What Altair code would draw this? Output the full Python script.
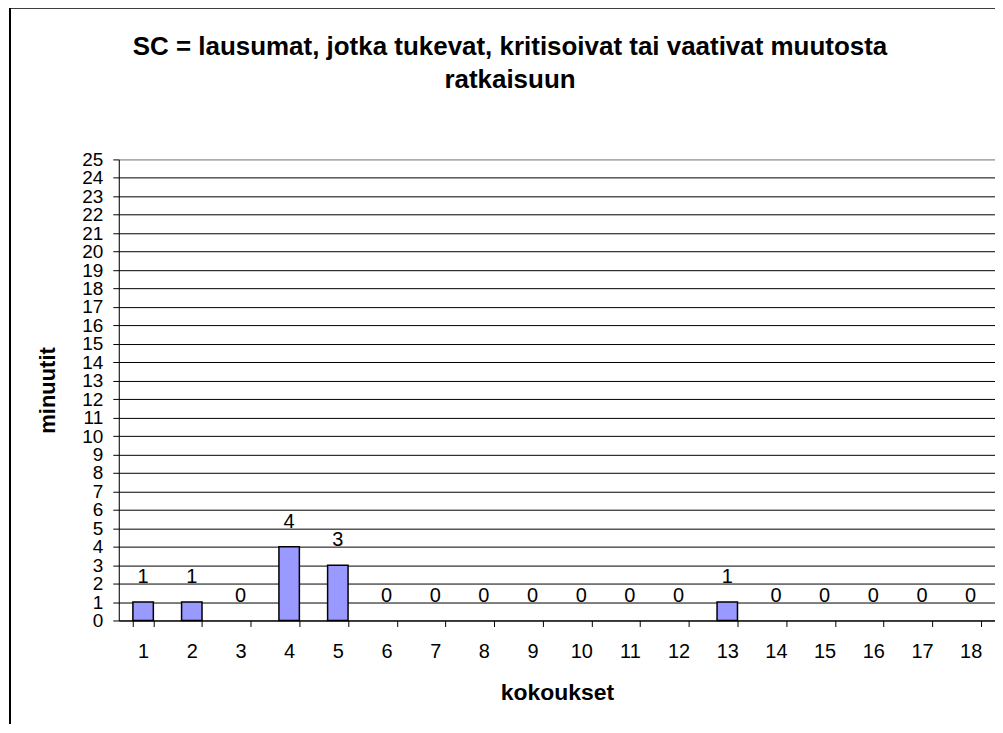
import altair as alt
import pandas as pd

# ---- data ----
meetings = [str(i) for i in range(1, 19)]
minutes = [1, 1, 0, 4, 3, 0, 0, 0, 0, 0, 0, 0, 1, 0, 0, 0, 0, 0]
y_ticks = list(range(0, 26))
title_lines = ["SC = lausumat, jotka tukevat, kritisoivat tai vaativat muutosta",
               "ratkaisuun"]
x_title = "kokoukset"
y_title = "minuutit"

df = pd.DataFrame({"kokous": meetings, "minuutit": minutes})

W, H = 878, 462
FONT = "Liberation Sans"

x = alt.X(
    "kokous:O", sort=meetings,
    scale=alt.Scale(paddingInner=0.58, paddingOuter=0.29),
    axis=alt.Axis(
        title=x_title, labelAngle=0, labelFontSize=20, labelColor="black",
        labelFont=FONT, labelPadding=15, labelOverlap=False,
        tickBand="extent", tickSize=6, tickColor="black", tickWidth=1,
        domainColor="black", domainWidth=1,
        titleFont=FONT, titleFontSize=23, titleFontWeight="bold",
        titleColor="black", titleY=79, titleBaseline="alphabetic",
        grid=False,
    ),
)
y = alt.Y(
    "minuutit:Q",
    scale=alt.Scale(domain=[0, 25], nice=False, zero=True),
    axis=alt.Axis(
        title=y_title, values=y_ticks, labelFontSize=19, labelColor="black",
        labelFont=FONT, labelPadding=10, labelOverlap=False, labelFlush=False,
        labelBound=False,
        tickSize=6, tickColor="black", tickWidth=1,
        domainColor="black", domainWidth=1,
        grid=True,
        gridColor=alt.condition("datum.value == 25", alt.value("#808080"), alt.value("#000000")),
        gridWidth=1,
        titleFont=FONT, titleFontSize=22, titleFontWeight="bold",
        titleColor="black", titleX=-71, titleY=H / 2, titleBaseline="middle",
        titleAngle=270,
    ),
)

base = alt.Chart(df)

bars = base.transform_filter("datum.minuutit > 0").mark_bar(
    color="#9999FF", stroke="black", strokeWidth=1.5
).encode(x=x, y=y)

labels = base.mark_text(
    dy=-19, fontSize=20, baseline="alphabetic", font=FONT, color="black"
).encode(x=x, y=y, text="minuutit:Q")

frame = alt.Chart(pd.DataFrame({"f": [0]})).mark_rect(
    fill=None, stroke="black", strokeWidth=2, clip=False
).encode(
    x=alt.value(-109), x2=alt.value(W + 40),
    y=alt.value(-152), y2=alt.value(H + 150),
)

chart = alt.layer(frame, bars, labels).properties(
    width=W, height=H,
    autosize="none",
    padding={"left": 111, "top": 151, "right": 0, "bottom": 103},
    title=alt.TitleParams(
        text=title_lines, fontSize=26, fontWeight="bold", font=FONT,
        anchor="middle", dx=-47, offset=0, dy=86, lineHeight=33, color="black",
    ),
).configure_view(stroke="#808080", strokeWidth=1.5).configure(background="white")

chart.save("out.html", embed_options={"renderer": "svg", "actions": False})
